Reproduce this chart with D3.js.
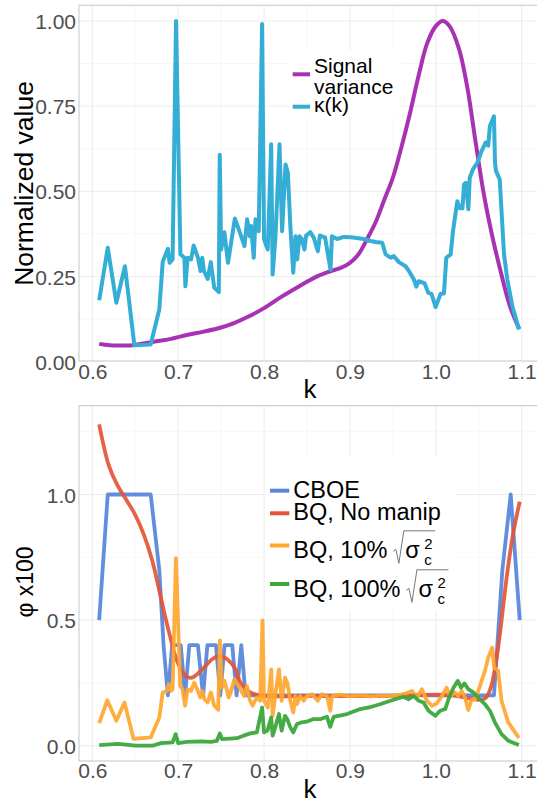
<!DOCTYPE html>
<html>
<head>
<meta charset="utf-8">
<script src="https://cdn.jsdelivr.net/npm/d3@7"></script>
<style>
  body { margin: 0; background: #fff; }
  svg { display: block; font-family: "Liberation Sans", Arial, sans-serif; }
</style>
</head>
<body>
<div id="chart"></div>
<script>
// ---- top panel data: [k, value] ----
const signalVariance = [
  [0.608,0.052],[0.62,0.048],[0.635,0.047],[0.65,0.049],[0.668,0.057],[0.69,0.066],[0.71,0.078],
  [0.73,0.088],[0.75,0.1],[0.765,0.113],[0.78,0.13],[0.80,0.157],[0.82,0.19],[0.84,0.22],
  [0.86,0.248],[0.877,0.265],[0.89,0.276],[0.90,0.29],[0.91,0.315],[0.92,0.36],[0.93,0.41],
  [0.94,0.475],[0.95,0.54],[0.96,0.63],[0.97,0.73],[0.98,0.84],[0.99,0.935],[1.0,0.985],
  [1.008,1.0],[1.016,0.985],[1.027,0.918],[1.037,0.8],[1.046,0.65],[1.056,0.49],[1.066,0.365],
  [1.075,0.27],[1.086,0.165],[1.097,0.097]
];
const kappa = [
  [0.608,0.18],[0.618,0.334],[0.628,0.173],[0.638,0.28],[0.649,0.048],[0.668,0.05],[0.678,0.153],
  [0.682,0.293],[0.688,0.331],[0.690,0.29],[0.6935,0.30],[0.6975,1.0],[0.7026,0.315],[0.7072,0.305],
  [0.7084,0.221],[0.711,0.305],[0.715,0.30],[0.718,0.341],[0.723,0.305],[0.726,0.266],[0.728,0.305],
  [0.730,0.266],[0.7344,0.243],[0.738,0.292],[0.742,0.217],[0.7473,0.204],[0.7484,0.607],[0.750,0.329],
  [0.7538,0.38],[0.758,0.29],[0.766,0.42],[0.7717,0.38],[0.7772,0.339],[0.7803,0.418],[0.7834,0.368],
  [0.785,0.398],[0.788,0.305],[0.790,0.418],[0.7938,0.383],[0.7977,0.991],[0.800,0.359],[0.8043,0.329],
  [0.8083,0.638],[0.810,0.256],[0.8133,0.368],[0.818,0.638],[0.821,0.383],[0.825,0.579],[0.8277,0.555],
  [0.8308,0.388],[0.834,0.261],[0.8366,0.368],[0.8386,0.30],[0.8413,0.368],[0.844,0.359],[0.847,0.329],
  [0.849,0.37],[0.854,0.38],[0.858,0.363],[0.8626,0.324],[0.865,0.37],[0.871,0.365],[0.8774,0.27],
  [0.879,0.368],[0.885,0.36],[0.893,0.366],[0.901,0.365],[0.908,0.363],[0.916,0.36],[0.924,0.354],
  [0.930,0.351],[0.9376,0.349],[0.9415,0.315],[0.9473,0.305],[0.951,0.31],[0.957,0.292],[0.9648,0.28],
  [0.9687,0.266],[0.9745,0.241],[0.9773,0.22],[0.980,0.236],[0.9869,0.23],[0.9912,0.202],[0.995,0.199],
  [0.9998,0.16],[1.0056,0.199],[1.0095,0.2],[1.0122,0.305],[1.0173,0.315],[1.02,0.383],[1.025,0.471],
  [1.028,0.45],[1.031,0.45],[1.0328,0.52],[1.035,0.525],[1.0379,0.447],[1.0395,0.54],[1.0433,0.565],
  [1.0484,0.584],[1.0534,0.619],[1.058,0.643],[1.061,0.634],[1.063,0.692],[1.0677,0.72],[1.0689,0.584],
  [1.070,0.56],[1.0744,0.535],[1.0794,0.315],[1.0833,0.241],[1.0891,0.163],[1.0968,0.094]
];

// ---- bottom panel data: [k, phi x100] ----
const cboe = [
  [0.608,0.5],[0.618,1.0],[0.668,1.0],[0.678,0.7],[0.683,0.4],[0.688,0.2],[0.693,0.4],[0.703,0.4],
  [0.708,0.2],[0.713,0.4],[0.723,0.4],[0.729,0.2],[0.734,0.4],[0.744,0.4],[0.749,0.2],[0.754,0.4],
  [0.763,0.4],[0.768,0.2],[0.7735,0.4],[0.7785,0.2],[1.0677,0.2],[1.0775,0.7],[1.0872,1.0],[1.0977,0.5]
];
const bqNoManip = [
  [0.608,1.279],[0.619,1.118],[0.629,1.038],[0.6385,0.985],[0.65,0.919],[0.66,0.84],[0.67,0.734],
  [0.679,0.602],[0.689,0.456],[0.6987,0.337],[0.7084,0.278],[0.716,0.271],[0.728,0.304],[0.7395,0.344],
  [0.747,0.357],[0.757,0.344],[0.7667,0.304],[0.7725,0.251],[0.784,0.212],[0.80,0.198],[0.85,0.198],
  [0.90,0.197],[0.95,0.198],[1.0,0.203],[1.02,0.2],[1.04,0.188],[1.05,0.183],[1.058,0.19],[1.064,0.231],
  [1.0697,0.324],[1.0755,0.469],[1.0814,0.641],[1.0891,0.827],[1.0977,0.972]
];
const bq10 = [
  [0.608,0.09],[0.6175,0.181],[0.628,0.099],[0.6375,0.172],[0.648,0.027],[0.668,0.033],[0.678,0.112],
  [0.682,0.212],[0.687,0.218],[0.689,0.245],[0.6917,0.218],[0.6935,0.225],[0.6974,0.747],[0.7024,0.238],
  [0.705,0.225],[0.708,0.159],[0.711,0.225],[0.715,0.218],[0.7187,0.251],[0.723,0.218],[0.7257,0.192],
  [0.728,0.218],[0.7305,0.185],[0.7343,0.172],[0.738,0.212],[0.742,0.159],[0.7466,0.143],[0.7486,0.419],
  [0.751,0.231],[0.754,0.258],[0.7587,0.192],[0.7606,0.205],[0.7655,0.265],[0.7714,0.231],[0.7769,0.198],
  [0.780,0.238],[0.7831,0.185],[0.7867,0.159],[0.7914,0.192],[0.7955,0.179],[0.7982,0.499],[0.80,0.179],
  [0.8043,0.152],[0.8083,0.304],[0.810,0.119],[0.8132,0.205],[0.8174,0.304],[0.8205,0.179],[0.8244,0.271],
  [0.827,0.251],[0.8306,0.179],[0.834,0.132],[0.8364,0.198],[0.8383,0.165],[0.842,0.198],[0.8461,0.179],
  [0.85,0.198],[0.856,0.205],[0.8625,0.179],[0.8675,0.205],[0.8733,0.198],[0.8771,0.139],[0.879,0.196],
  [0.889,0.203],[0.9003,0.196],[0.912,0.2],[0.9235,0.196],[0.935,0.198],[0.949,0.198],[0.9625,0.205],
  [0.9722,0.218],[0.978,0.192],[0.9838,0.225],[0.9896,0.179],[0.9955,0.159],[1.001,0.168],[1.007,0.198],
  [1.0127,0.231],[1.0165,0.196],[1.0224,0.212],[1.0262,0.198],[1.03,0.218],[1.034,0.192],[1.0378,0.142],
  [1.0417,0.183],[1.0456,0.185],[1.0494,0.218],[1.0533,0.258],[1.0572,0.298],[1.061,0.35],[1.0657,0.39],
  [1.068,0.311],[1.0726,0.298],[1.0765,0.179],[1.0843,0.093],[1.0967,0.031]
];
const bq100 = [
  [0.608,0.002],[0.63,0.007],[0.65,0.0],[0.67,0.0],[0.68,0.01],[0.6935,0.013],[0.697,0.046],[0.70,0.01],
  [0.71,0.015],[0.727,0.017],[0.738,0.015],[0.745,0.019],[0.7485,0.049],[0.751,0.026],[0.76,0.028],
  [0.7685,0.03],[0.776,0.04],[0.784,0.049],[0.7916,0.053],[0.7977,0.152],[0.80,0.053],[0.804,0.06],
  [0.8083,0.112],[0.81,0.04],[0.813,0.073],[0.8174,0.126],[0.8205,0.06],[0.8244,0.119],[0.827,0.106],
  [0.8306,0.073],[0.834,0.053],[0.8383,0.086],[0.8439,0.093],[0.85,0.096],[0.8578,0.106],[0.866,0.106],
  [0.8733,0.115],[0.877,0.075],[0.881,0.115],[0.8966,0.126],[0.912,0.146],[0.925,0.155],[0.935,0.165],
  [0.941,0.172],[0.9527,0.185],[0.9625,0.195],[0.9684,0.185],[0.974,0.198],[0.9799,0.179],[0.9857,0.172],
  [0.9915,0.139],[0.9993,0.119],[1.0051,0.139],[1.011,0.146],[1.0155,0.192],[1.0205,0.231],[1.0256,0.258],
  [1.0294,0.231],[1.0333,0.248],[1.0378,0.225],[1.0436,0.212],[1.0494,0.192],[1.0572,0.165],[1.063,0.139],
  [1.0688,0.093],[1.0765,0.046],[1.0843,0.02],[1.0967,0.003]
];

// ticks
const xTicks = [0.6, 0.7, 0.8, 0.9, 1.0, 1.1];
const topYTicks = [0, 0.25, 0.5, 0.75, 1.0];
const bottomYTicks = [0, 0.5, 1.0];

const W = 537, H = 804;
const svg = d3.select('#chart').append('svg').attr('width', W).attr('height', H);

function drawPanel(p) {
  const x = d3.scaleLinear().domain([0.6, 1.1]).range([92.3, 521.7]);
  const y = d3.scaleLinear().domain([0, 1]).range(p.yRange);
  const g = svg.append('g');

  svg.append('clipPath').attr('id', 'clip-' + p.id)
    .append('rect')
    .attr('x', p.left).attr('y', p.top)
    .attr('width', p.right - p.left).attr('height', p.bottom - p.top);

  const grid = g.append('g').attr('clip-path', 'url(#clip-' + p.id + ')');
  const step = p.yTicks[1] - p.yTicks[0];
  const minorY = d3.range(-step / 2, 1.5, step).filter(v => y(v) > p.top && y(v) < p.bottom);
  const minorX = d3.range(0.55, 1.16, 0.1);

  grid.selectAll('.mx').data(minorX).join('line')
    .attr('x1', d => x(d)).attr('x2', d => x(d)).attr('y1', p.top).attr('y2', p.bottom)
    .attr('stroke', '#f5f5f5').attr('stroke-width', 0.8);
  grid.selectAll('.my').data(minorY).join('line')
    .attr('y1', d => y(d)).attr('y2', d => y(d)).attr('x1', p.left).attr('x2', p.right)
    .attr('stroke', '#f5f5f5').attr('stroke-width', 0.8);
  grid.selectAll('.gx').data(xTicks).join('line')
    .attr('x1', d => x(d)).attr('x2', d => x(d)).attr('y1', p.top).attr('y2', p.bottom)
    .attr('stroke', '#ececec').attr('stroke-width', 1);
  grid.selectAll('.gy').data(p.yTicks).join('line')
    .attr('y1', d => y(d)).attr('y2', d => y(d)).attr('x1', p.left).attr('x2', p.right)
    .attr('stroke', '#ececec').attr('stroke-width', 1);

  // panel border
  g.append('rect')
    .attr('x', p.left).attr('y', p.top)
    .attr('width', p.right - p.left).attr('height', p.bottom - p.top)
    .attr('fill', 'none').attr('stroke', '#cfcfcf').attr('stroke-width', 1.2);

  // x axis labels
  const xAxis = d3.axisBottom(x).tickValues(xTicks).tickFormat(d3.format('.1f')).tickSize(0).tickPadding(0);
  const xa = g.append('g').attr('transform', 'translate(0,' + p.bottom + ')').call(xAxis);
  xa.select('.domain').remove();
  xa.selectAll('text').attr('y', p.xLabelBase - p.bottom).attr('dy', 0)
    .attr('font-size', 21).attr('fill', '#4d4d4d')
    .attr('font-family', '"Liberation Sans", Arial, sans-serif');

  // y axis labels
  const yAxis = d3.axisLeft(y).tickValues(p.yTicks).tickFormat(d3.format(p.yFmt)).tickSize(0).tickPadding(0);
  const ya = g.append('g').attr('transform', 'translate(76,0)').call(yAxis);
  ya.select('.domain').remove();
  ya.selectAll('text').attr('x', 0).attr('dy', '0.36em')
    .attr('font-size', 21).attr('fill', '#4d4d4d')
    .attr('font-family', '"Liberation Sans", Arial, sans-serif');

  // titles
  g.append('text').attr('x', 310).attr('y', p.kBase).attr('text-anchor', 'middle')
    .attr('font-size', 26).attr('fill', '#000').text('k');
  g.append('text').attr('transform', 'translate(33,' + p.yTitleMid + ') rotate(-90)')
    .attr('text-anchor', 'middle').attr('font-size', p.yTitleSize).attr('fill', '#000').text(p.yTitle);

  // series
  const lines = g.append('g').attr('clip-path', 'url(#clip-' + p.id + ')');
  p.series.forEach(s => {
    const line = d3.line().x(d => x(d[0])).y(d => y(d[1]))
      .curve(s.smooth ? d3.curveCatmullRom.alpha(0.5) : d3.curveLinear);
    lines.append('path').datum(s.data)
      .attr('d', line)
      .attr('fill', 'none')
      .attr('stroke', s.color)
      .attr('stroke-width', s.width)
      .attr('stroke-linejoin', 'round')
      .attr('stroke-opacity', s.opacity);
  });
  return g;
}

// top panel
const topG = drawPanel({
  id: 'top', left: 79, right: 543, top: 5.3, bottom: 361,
  yRange: [361.6, 21], yTicks: topYTicks, yFmt: '.2f',
  xLabelBase: 379, kBase: 398,
  yTitle: 'Normalized value', yTitleSize: 26.5, yTitleMid: 183.5,
  series: [
    { data: signalVariance, color: '#a832b4', width: 4, smooth: true, opacity: 1 },
    { data: kappa, color: '#34aed5', width: 4, smooth: false, opacity: 1 }
  ]
});

// top legend
topG.append('rect').attr('x', 289).attr('y', 50).attr('width', 112).attr('height', 67).attr('fill', '#fff');
topG.append('line').attr('x1', 292.7).attr('x2', 310).attr('y1', 74.3).attr('y2', 74.3)
  .attr('stroke', '#a832b4').attr('stroke-width', 4);
topG.append('line').attr('x1', 292.7).attr('x2', 310).attr('y1', 106.7).attr('y2', 106.7)
  .attr('stroke', '#34aed5').attr('stroke-width', 4);
[['Signal', 72.7], ['variance', 94.2], ['κ(k)', 111.7]].forEach(t => {
  topG.append('text').attr('x', 314).attr('y', t[1]).attr('font-size', 21).attr('fill', '#000').text(t[0]);
});

// bottom panel
const botG = drawPanel({
  id: 'bot', left: 79, right: 543, top: 405.7, bottom: 761,
  yRange: [745.7, 494.5], yTicks: bottomYTicks, yFmt: '.1f',
  xLabelBase: 778, kBase: 798,
  yTitle: 'φ x100', yTitleSize: 23, yTitleMid: 582,
  series: [
    { data: cboe, color: '#5b87db', width: 3.8, smooth: false, opacity: 0.95 },
    { data: bqNoManip, color: '#e35537', width: 3.8, smooth: true, opacity: 0.92 },
    { data: bq10, color: '#ffa62f', width: 3.8, smooth: false, opacity: 0.92 },
    { data: bq100, color: '#3ba63b', width: 3.8, smooth: false, opacity: 0.95 }
  ]
});

// bottom legend
const legendItems = [
  { label: 'CBOE', color: '#5b87db', keyY: 490.7, base: 498.3, root: false },
  { label: 'BQ, No manip', color: '#e35537', keyY: 513.3, base: 520, root: false },
  { label: 'BQ, 10%', color: '#ffa62f', keyY: 545.5, base: 558.3, root: true },
  { label: 'BQ, 100%', color: '#3ba63b', keyY: 584, base: 597.3, root: true }
];
botG.append('rect').attr('x', 266).attr('y', 456).attr('width', 190).attr('height', 154).attr('fill', '#fff');
legendItems.forEach(it => {
  botG.append('line').attr('x1', 270).attr('x2', 289.3).attr('y1', it.keyY).attr('y2', it.keyY)
    .attr('stroke', it.color).attr('stroke-width', 4);
  const t = botG.append('text').attr('x', 293.3).attr('y', it.base)
    .attr('font-size', 23.5).attr('fill', '#000').text(it.label);
  if (it.root) {
    const x0 = 293.3 + t.node().getComputedTextLength() + 6;
    const b = it.base;
    botG.append('path')
      .attr('d', `M${x0},${b - 7} L${x0 + 2.5},${b - 9} L${x0 + 5.5},${b + 5} L${x0 + 10.5},${b - 27.5} H${x0 + 42}`)
      .attr('fill', 'none').attr('stroke', '#777').attr('stroke-width', 1);
    botG.append('text').attr('x', x0 + 12).attr('y', b).attr('font-size', 23.5).attr('fill', '#000').text('σ');
    botG.append('text').attr('x', x0 + 31).attr('y', b - 9).attr('font-size', 15).attr('fill', '#000').text('2');
    botG.append('text').attr('x', x0 + 31).attr('y', b + 7).attr('font-size', 15).attr('fill', '#000').text('c');
  }
});
</script>
</body>
</html>
